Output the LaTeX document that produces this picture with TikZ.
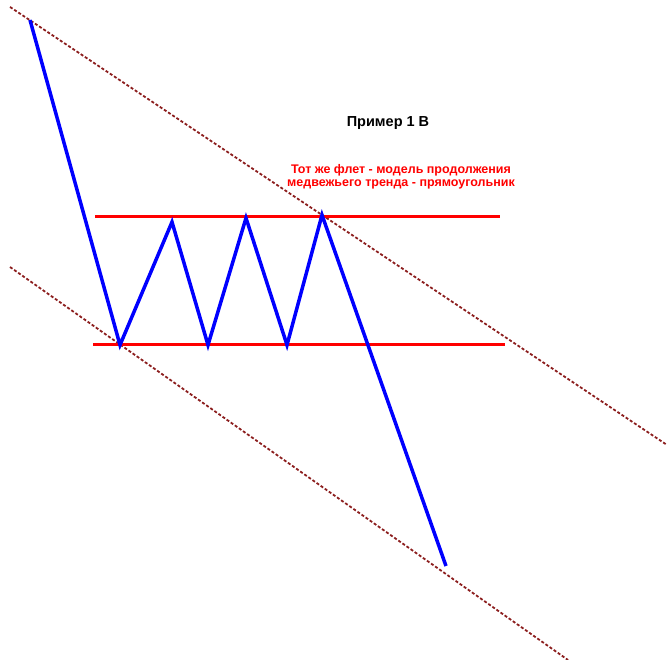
\documentclass[tikz,border=0pt]{standalone}
\usepackage{fontspec}
\setmainfont{Liberation Sans}
\usepackage{tikz}
\usetikzlibrary{arrows.meta}

\definecolor{chanbrown}{RGB}{140,30,30}

\begin{document}
\begin{tikzpicture}[x=1pt,y=-1pt]
\useasboundingbox (0,0) rectangle (667,660);
\begin{scope}
    \coordinate (start) at (30,20);
    \coordinate (low1) at (120,345);
    \coordinate (high1) at (172,222);
    \coordinate (low2) at (208,345);
    \coordinate (high2) at (246,218);
    \coordinate (low3) at (287,345);
    \coordinate (high3) at (322,215);
    \coordinate (finish) at (446,566);
    \coordinate (up_a) at (10,7);
    \coordinate (up_b) at (667,445);
    \coordinate (dn_a) at (10,267);
    \coordinate (dn_b) at (568,660);
    \coordinate (top_a) at (95,217);
    \coordinate (top_b) at (500,217);
    \coordinate (bot_a) at (93,345);
    \coordinate (bot_b) at (505,345);
\end{scope}
\begin{scope}[channel_edge/.style={draw=chanbrown,line width=1.8pt,dash pattern=on 3pt off 2pt},
              level_edge/.style={draw=red,line width=3pt},
              price_edge/.style={draw=blue,line width=3.5pt,line join=miter}]
    \path (up_a) edge [channel_edge] (up_b);
    \path (dn_a) edge [channel_edge] (dn_b);
    \path (top_a) edge [level_edge] (top_b);
    \path (bot_a) edge [level_edge] (bot_b);
    \draw [price_edge] (start) -- (low1) -- (high1) -- (low2) -- (high2)
        -- (low3) -- (high3) -- (finish);
\end{scope}
\node (title) [font=\fontsize{14.5}{16}\selectfont\bfseries] at (388,123) {Пример 1 В};
\node (note) [text=red,align=center,inner sep=0pt,
              font=\fontsize{12.5}{13}\selectfont\bfseries] at (401,177)
    {Тот же флет - модель продолжения\\
     медвежьего тренда - прямоугольник};
\end{tikzpicture}
\end{document}
